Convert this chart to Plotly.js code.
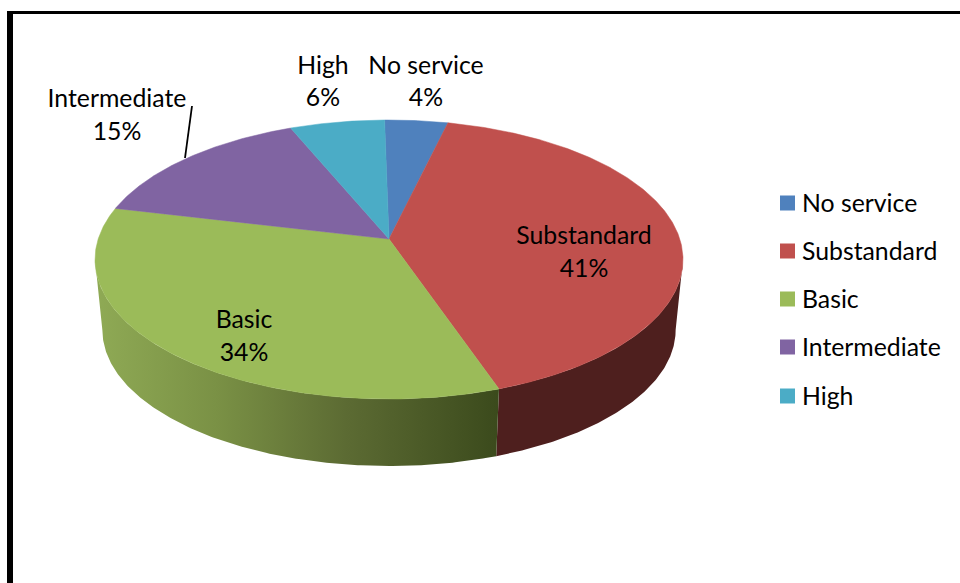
<!DOCTYPE html>
<html>
<head>
<meta charset="utf-8">
<script src="https://cdn.plot.ly/plotly-3.0.1.min.js"></script>
<style>html,body{margin:0;padding:0;background:#fff;overflow:hidden}</style>
</head>
<body>
<div id="chart" style="width:960px;height:583px"></div>
<script>
// Service level shares, in percent
const categories = ["No service", "Substandard", "Basic", "Intermediate", "High"];
const shares = [4, 41, 34, 15, 6];
const sliceColors = ["#4F81BD", "#C0504D", "#9BBB59", "#8064A2", "#4BACC6"];

// Data label placement, pixels on a 960x583 canvas
const labelX = [426, 584, 244, 117, 323];
const labelNameY = [68, 238, 322, 101, 68];
const labelPctY = [100, 271, 355, 134, 100];

// Legend placement
const legendRowY = [206, 254, 302, 350, 399];
const legendSwatchX = 787.5;
const legendSwatchY = [203, 251, 299, 347, 396];
const legendTextX = 802;

// Projection of the tilted disc: centre, half axes, perspective, and the lower rim
const disc = {cx: 389, cy: 239, a: 290.8, b: 136.5, p: 0.147, lowerCy: 310, lowerScale: 0.975};
const firstSliceAngle = -1;
const fontFamily = "Lato, Carlito, sans-serif";
const fontSize = 24.8;

function project(deg, lower) {
  const t = deg * Math.PI / 180, u = Math.sin(t), v = Math.cos(t);
  const d = 1 + disc.p * v, s = lower ? disc.lowerScale : 1;
  return [disc.cx + s * disc.a * u / d, (lower ? disc.lowerCy : disc.cy) - s * disc.b * v / d];
}

function arc(from, to, lower) {
  const n = Math.max(2, Math.ceil(Math.abs(to - from) * 2));
  const pts = [];
  for (let i = 0; i <= n; i++) pts.push(project(from + (to - from) * i / n, lower));
  return pts;
}

// Slice boundaries in degrees, clockwise from twelve o'clock
const total = shares.reduce((a, b) => a + b, 0);
const bounds = [firstSliceAngle];
shares.forEach(v => bounds.push(bounds[bounds.length - 1] + v / total * 360));

// The rim is visible between the two points where the disc outline turns back
const rimStart = Math.acos(-disc.p) * 180 / Math.PI;
const rimEnd = 360 - rimStart;

// Rim shading for the slices that face the viewer
const rimFill = {
  1: {colorscale: [[0, "#4E1F1E"], [1, "#4E1F1E"]]},
  2: {colorscale: [[0, "#8FAA55"], [0.3, "#7A9145"], [0.62, "#5C6B33"], [1, "#3B4A1C"]]}
};

const traces = [];

// Outer rim, drawn first so the top face overlaps it
Object.keys(rimFill).forEach(k => {
  const i = +k;
  const from = Math.max(bounds[i], rimStart), to = Math.min(bounds[i + 1], rimEnd);
  const poly = arc(from, to, false).concat(arc(to, from, true));
  const xs = poly.map(p => p[0]), ys = poly.map(p => p[1]);
  xs.push(xs[0]); ys.push(ys[0]);
  traces.push({
    type: "scatter", mode: "lines", x: xs, y: ys, fill: "toself",
    fillgradient: {
      type: "horizontal", colorscale: rimFill[k].colorscale,
      start: Math.min(...xs), stop: Math.max(...xs)
    },
    line: {width: 0}, hoverinfo: "skip", showlegend: false
  });
});

// Top face of each slice
categories.forEach((name, i) => {
  const poly = [[disc.cx, disc.cy]].concat(arc(bounds[i], bounds[i + 1], false));
  poly.push([disc.cx, disc.cy]);
  traces.push({
    type: "scatter", mode: "lines", name,
    x: poly.map(p => p[0]), y: poly.map(p => p[1]),
    fill: "toself", fillcolor: sliceColors[i],
    line: {width: 0.5, color: sliceColors[i]}, hoverinfo: "name", showlegend: false
  });
});

// Data labels: category name above its share
const labelFont = {family: fontFamily, size: fontSize, color: "#000"};
traces.push({
  type: "scatter", mode: "text", x: labelX, y: labelNameY, text: categories,
  textposition: "middle center", textfont: labelFont, hoverinfo: "skip", showlegend: false
});
traces.push({
  type: "scatter", mode: "text", x: labelX, y: labelPctY, text: shares.map(v => v + "%"),
  textposition: "middle center", textfont: labelFont, hoverinfo: "skip", showlegend: false
});

// Legend: swatches and names
traces.push({
  type: "scatter", mode: "markers", x: categories.map(() => legendSwatchX), y: legendSwatchY,
  marker: {symbol: "square", size: 15, color: sliceColors}, hoverinfo: "skip", showlegend: false
});
traces.push({
  type: "scatter", mode: "text", x: categories.map(() => legendTextX), y: legendRowY, text: categories,
  textposition: "middle right", textfont: labelFont, hoverinfo: "skip", showlegend: false
});

const layout = {
  width: 960, height: 583,
  margin: {l: 0, r: 0, t: 0, b: 0},
  paper_bgcolor: "#fff", plot_bgcolor: "#fff",
  showlegend: false,
  xaxis: {range: [0, 960], visible: false, fixedrange: true},
  yaxis: {range: [583, 0], visible: false, fixedrange: true},
  shapes: [
    // Left and top edges of the frame
    {type: "rect", xref: "x", yref: "y", x0: 7, x1: 13, y0: 11, y1: 583, fillcolor: "#000", line: {width: 0}},
    {type: "rect", xref: "x", yref: "y", x0: 7, x1: 960, y0: 11, y1: 14, fillcolor: "#000", line: {width: 0}},
    // Leader from the Intermediate label to its slice
    {type: "line", xref: "x", yref: "y", x0: 192, y0: 106, x1: 185, y1: 158, line: {color: "#000", width: 1.8}}
  ]
};

Plotly.newPlot("chart", traces, layout, {displayModeBar: false});
</script>
</body>
</html>
